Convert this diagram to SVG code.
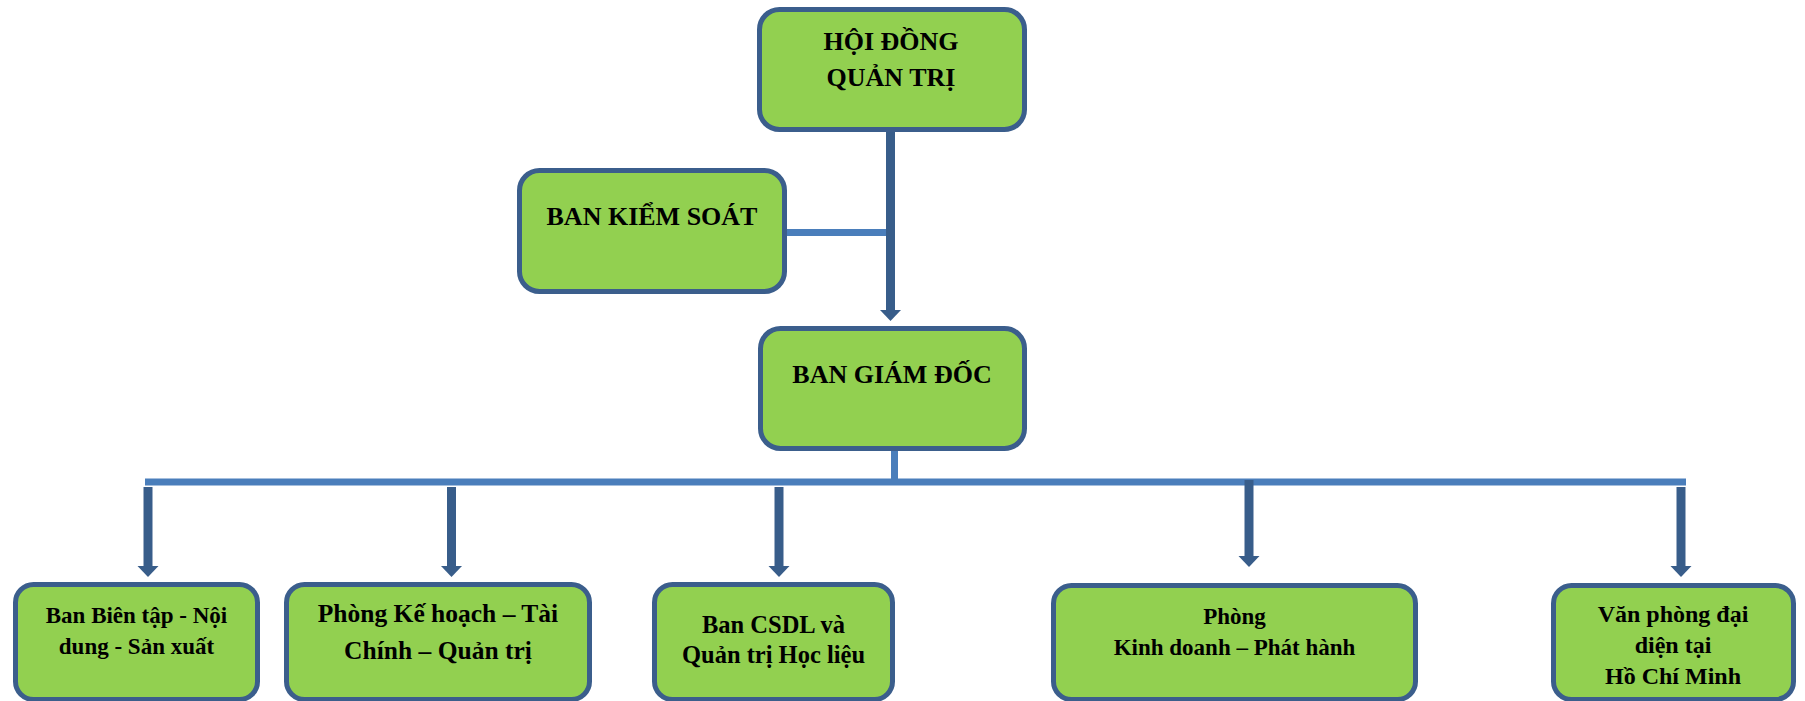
<svg xmlns="http://www.w3.org/2000/svg" width="1805" height="701" viewBox="0 0 1805 701">
<style>
.box{fill:#92D050;stroke:#3B5E8C;stroke-width:5}
.t{font-family:"Liberation Serif","Times New Roman",serif;font-weight:bold;fill:#000;text-anchor:middle}
.t26{font-size:26px}
.t255{font-size:25.5px}
.t245{font-size:24.5px}
.t24{font-size:24px}
.t23{font-size:23px}
.dark{stroke:#385D8A;stroke-width:9;fill:none}
.light{stroke:#4A7EBB;stroke-width:7;fill:none}
</style>
<defs>
<marker id="ah" markerUnits="userSpaceOnUse" markerWidth="12" markerHeight="22" viewBox="0 0 12 22" refX="0" refY="11" orient="auto">
<path d="M0,0.5 L11,11 L0,21.5 Z" fill="#385D8A"/>
</marker>
</defs>
<rect width="1805" height="701" fill="#fff"/>
<g id="connectors">
<line class="dark" x1="890.5" y1="130" x2="890.5" y2="310" marker-end="url(#ah)"/>
<line class="light" x1="787" y1="232.5" x2="886" y2="232.5"/>
<line class="light" x1="894.5" y1="451" x2="894.5" y2="482"/>
<line class="light" x1="145" y1="482" x2="1686" y2="482"/>
<line class="dark" x1="148" y1="487" x2="148" y2="566" marker-end="url(#ah)"/>
<line class="dark" x1="451.5" y1="487" x2="451.5" y2="566" marker-end="url(#ah)"/>
<line class="dark" x1="779" y1="487" x2="779" y2="566" marker-end="url(#ah)"/>
<line class="dark" x1="1249" y1="480" x2="1249" y2="556" marker-end="url(#ah)"/>
<line class="dark" x1="1681" y1="487" x2="1681" y2="566" marker-end="url(#ah)"/>
</g>
<g id="hdqt">
<rect class="box" x="759.5" y="9.5" width="265" height="120" rx="20"/>
<text class="t t26" x="891" y="50">HỘI ĐỒNG</text>
<text class="t t26" x="891" y="86">QUẢN TRỊ</text>
</g>
<g id="bks">
<rect class="box" x="519.5" y="170.5" width="265" height="121" rx="20"/>
<text class="t t26" x="652" y="225">BAN KIỂM SOÁT</text>
</g>
<g id="bgd">
<rect class="box" x="760.5" y="328.5" width="264" height="120" rx="20"/>
<text class="t t26" x="892" y="383">BAN GIÁM ĐỐC</text>
</g>
<g id="bbt">
<rect class="box" x="15.5" y="584.5" width="242" height="115" rx="18"/>
<text class="t t23" x="136.5" y="623">Ban Biên tập - Nội</text>
<text class="t t23" x="136.5" y="654">dung - Sản xuất</text>
</g>
<g id="pkh">
<rect class="box" x="286.5" y="584.5" width="303" height="115" rx="18"/>
<text class="t t255" x="438" y="622">Phòng Kế hoạch – Tài</text>
<text class="t t255" x="438" y="659">Chính – Quản trị</text>
</g>
<g id="csdl">
<rect class="box" x="654.5" y="584.5" width="238" height="115" rx="18"/>
<text class="t t245" x="773.5" y="633">Ban CSDL và</text>
<text class="t t245" x="773.5" y="663">Quản trị Học liệu</text>
</g>
<g id="kd">
<rect class="box" x="1053.5" y="585.5" width="362" height="114" rx="18"/>
<text class="t t23" x="1234.5" y="624">Phòng</text>
<text class="t t23" x="1234.5" y="655">Kinh doanh – Phát hành</text>
</g>
<g id="vp">
<rect class="box" x="1553.5" y="585.5" width="240" height="114" rx="18"/>
<text class="t t24" x="1673" y="622">Văn phòng đại</text>
<text class="t t24" x="1673" y="653">diện tại</text>
<text class="t t24" x="1673" y="684">Hồ Chí Minh</text>
</g>
</svg>
